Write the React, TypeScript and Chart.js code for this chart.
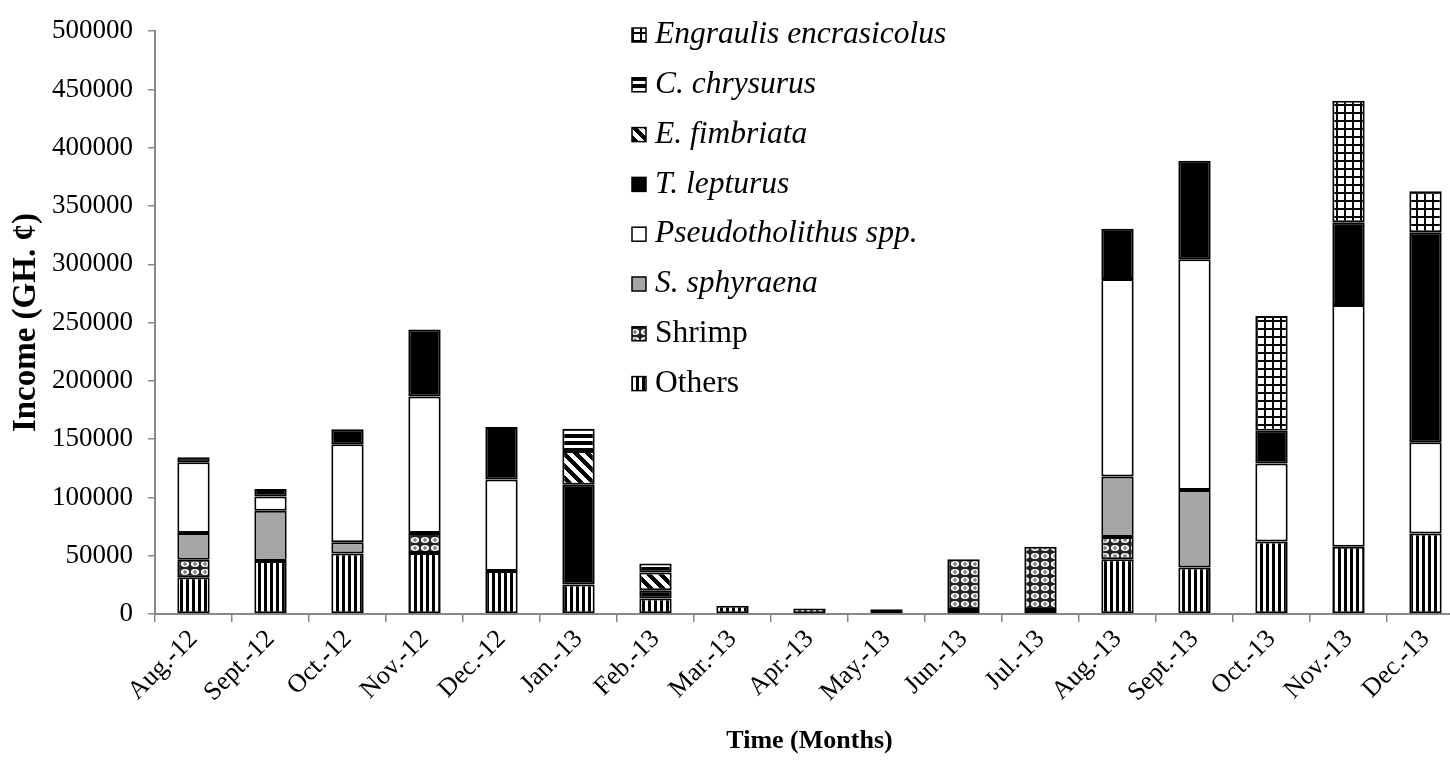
import React, { useEffect, useRef } from "react";
import { Chart, registerables } from "chart.js";
Chart.register(...registerables);

const months = ["Aug.-12", "Sept.-12", "Oct.-12", "Nov.-12", "Dec.-12", "Jan.-13", "Feb.-13", "Mar.-13", "Apr.-13", "May.-13", "Jun.-13", "Jul.-13", "Aug.-13", "Sept.-13", "Oct.-13", "Nov.-13", "Dec.-13"];

const others = [31500, 45500, 52000, 52300, 36900, 25300, 13200, 7000, 4800, 4000, 3400, 3400, 47000, 39900, 62200, 57600, 69000];
const shrimp = [15000, null, null, 17100, null, null, null, null, null, null, 43600, 54300, 19100, null, null, null, null];
const sSphyraena = [23000, 43000, 9500, null, null, null, null, null, null, null, null, null, 51800, 66400, null, null, null];
const pseudotholithus = [60700, 12400, 84100, 117100, 78500, null, null, null, null, null, null, null, 169600, 198100, 66900, 207400, 78400];
const tLepturus = [4300, 6400, 12900, 57500, 45000, 85500, 7100, null, null, null, null, null, 43100, 84400, 28100, 71200, 180100];
const eFimbriata = [null, null, null, null, null, 29000, 15400, null, null, null, null, null, null, null, null, null, null];
const cChrysurus = [null, null, null, null, null, 19100, 7600, null, null, null, null, null, null, null, null, null, null];
const engraulis = [null, null, null, null, null, null, null, null, null, null, null, null, null, null, 98500, 104100, 35100];

const yTicks = [0, 50000, 100000, 150000, 200000, 250000, 300000, 350000, 400000, 450000, 500000];

const FONT = "'Liberation Serif', 'Times New Roman', serif";

function makePattern(w: number, h: number, f: (x: number, y: number) => string): CanvasPattern | string {
  const c = document.createElement("canvas");
  c.width = w;
  c.height = h;
  const cx = c.getContext("2d")!;
  for (let y = 0; y < h; y++) {
    for (let x = 0; x < w; x++) {
      cx.fillStyle = f(x, y);
      cx.fillRect(x, y, 1, 1);
    }
  }
  const p = cx.createPattern(c, "repeat");
  return p || "#000";
}

function makeShrimp(): CanvasPattern | string {
  const c = document.createElement("canvas");
  c.width = 10;
  c.height = 8;
  const cx = c.getContext("2d")!;
  cx.fillStyle = "#222";
  cx.fillRect(0, 0, 10, 8);
  cx.fillStyle = "#f4f4f4";
  cx.beginPath();
  cx.ellipse(5, 4, 4.2, 3.0, 0, 0, Math.PI * 2);
  cx.fill();
  cx.strokeStyle = "#555";
  cx.lineWidth = 1;
  cx.beginPath();
  cx.moveTo(5, 2);
  cx.lineTo(5, 6);
  cx.moveTo(3, 4);
  cx.lineTo(7, 4);
  cx.stroke();
  return cx.createPattern(c, "repeat") || "#333";
}

export default function App() {
  const ref = useRef<HTMLCanvasElement | null>(null);

  useEffect(() => {
    document.body.style.overflow = "hidden";
    const canvas = ref.current;
    if (!canvas) return;

    const pOthers = makePattern(6, 6, (x) => (x % 6 < 3 ? "#000" : "#fff"));
    const pShrimp = makeShrimp();
    const pFimb = makePattern(12, 12, (x, y) => (((x - y) % 12 + 12) % 12 < 6 ? "#000" : "#fff"));
    const pChry = makePattern(7, 7, (x, y) => (y % 7 < 4 ? "#000" : "#fff"));
    const pEngr = makePattern(8, 8, (x, y) => (x % 8 < 2 || y % 8 < 2 ? "#000" : "#fff"));

    const mk = (label: string, data: (number | null)[], bg: any, italic: boolean) => ({
      label,
      data,
      backgroundColor: bg,
      borderColor: "#000",
      borderWidth: 2,
      borderSkipped: false,
      italic,
    });

    const datasets: any[] = [
      mk("Others", others, pOthers, false),
      mk("Shrimp", shrimp, pShrimp, false),
      mk("S. sphyraena", sSphyraena, "#a6a6a6", true),
      mk("Pseudotholithus spp.", pseudotholithus, "#fff", true),
      mk("T. lepturus", tLepturus, "#000", true),
      mk("E. fimbriata", eFimbriata, pFimb, true),
      mk("C. chrysurus", cChrysurus, pChry, true),
      mk("Engraulis encrasicolus", engraulis, pEngr, true),
    ];

    const legendPlugin = {
      id: "customLegend",
      afterDraw(chart: any) {
        const ctx = chart.ctx as CanvasRenderingContext2D;
        ctx.save();
        const items = [...chart.data.datasets].reverse();
        items.forEach((ds: any, i: number) => {
          const cy = 35 + 49.8 * i;
          const bx = 632;
          const bs = 14;
          ctx.fillStyle = ds.backgroundColor;
          ctx.fillRect(bx, cy - bs / 2, bs, bs);
          ctx.strokeStyle = "#000";
          ctx.lineWidth = 1.5;
          ctx.strokeRect(bx, cy - bs / 2, bs, bs);
          ctx.fillStyle = "#000";
          ctx.font = (ds.italic ? "italic " : "") + "31.5px " + FONT;
          ctx.textBaseline = "middle";
          ctx.textAlign = "left";
          ctx.fillText(ds.label, 655, cy);
        });
        ctx.restore();
      },
    };

    const chart = new Chart(canvas, {
      type: "bar",
      data: { labels: months, datasets },
      options: {
        responsive: false,
        animation: false,
        layout: { padding: { left: 0, right: 8, top: 21, bottom: 0 } },
        plugins: { legend: { display: false }, tooltip: { enabled: false } },
        datasets: { bar: { barPercentage: 0.42, categoryPercentage: 1 } },
        scales: {
          x: {
            stacked: true,
            grid: { drawOnChartArea: false, offset: true, tickLength: 8, color: "#888", lineWidth: 1.5 },
            border: { color: "#888", width: 2 },
            ticks: {
              color: "#000",
              font: { family: FONT, size: 26 },
              minRotation: 45,
              maxRotation: 45,
              autoSkip: false,
              padding: 2,
            },
            title: {
              display: true,
              text: "Time (Months)",
              color: "#000",
              font: { family: FONT, size: 26, weight: "bold" },
              padding: { top: 0, bottom: 3 },
            },
            afterFit: (s: any) => {
              s.height = 146;
            },
          },
          y: {
            stacked: true,
            min: 0,
            max: 500000,
            afterBuildTicks: (s: any) => {
              s.ticks = yTicks.map((v) => ({ value: v }));
            },
            grid: { drawOnChartArea: false, tickLength: 7, color: "#888", lineWidth: 1.5 },
            border: { color: "#888", width: 2 },
            ticks: {
              color: "#000",
              font: { family: FONT, size: 27 },
              padding: 15,
              callback: (v: any) => String(v),
            },
            title: {
              display: true,
              text: "Income (GH. ¢)",
              color: "#000",
              font: { family: FONT, size: 33, weight: "bold" },
              padding: { top: 7, bottom: 0 },
            },
            afterFit: (s: any) => {
              s.width = 155;
            },
          },
        },
      },
      plugins: [legendPlugin],
    } as any);

    return () => chart.destroy();
  }, []);

  return (
    <div style={{ position: "fixed", left: 0, top: 0, width: 1472, height: 760, background: "#fff" }}>
      <canvas ref={ref} width={1472} height={760} style={{ width: 1472, height: 760, display: "block" }} />
    </div>
  );
}
